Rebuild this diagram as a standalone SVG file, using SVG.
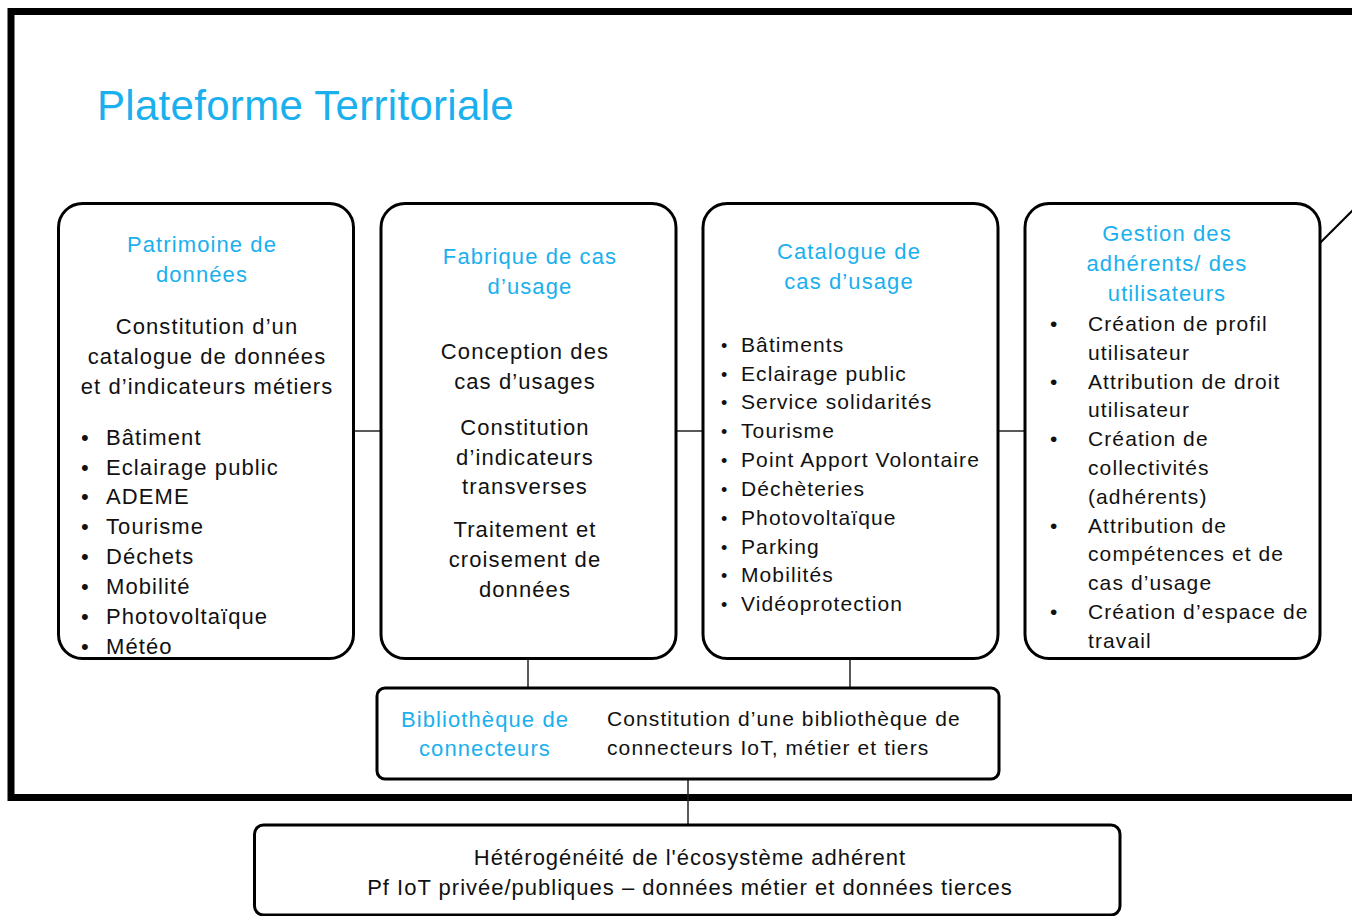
<svg xmlns="http://www.w3.org/2000/svg" width="1352" height="916" viewBox="0 0 1352 916">
<style>
.t{font-family:"Liberation Sans",Arial,sans-serif;font-size:22px;fill:#111;letter-spacing:1.1px}
.c{text-anchor:middle}
.b{fill:#1ab0ee}
.box{fill:#fff;stroke:#000;stroke-width:3}
.ln{stroke:#222;stroke-width:1.5;fill:none}
</style>
<rect width="1352" height="916" fill="#fff"/>
<rect id="frame" x="11" y="11.5" width="1400" height="786" fill="none" stroke="#000" stroke-width="7"/>
<text class="t b" x="97" y="120" style="font-size:42px;letter-spacing:0.3px">Plateforme Territoriale</text>
<g id="connectors">
<line class="ln" x1="354" y1="431" x2="381" y2="431"/>
<line class="ln" x1="676" y1="431" x2="703" y2="431"/>
<line class="ln" x1="998" y1="431" x2="1025" y2="431"/>
<line class="ln" x1="528" y1="659" x2="528" y2="687"/>
<line class="ln" x1="850" y1="659" x2="850" y2="687"/>
<line class="ln" x1="688" y1="779" x2="688" y2="825"/>
<line stroke="#000" stroke-width="2" x1="1320" y1="243" x2="1362" y2="201"/>
</g>
<g id="patrimoine">
<rect class="box" x="58.5" y="203.5" width="295" height="455" rx="24"/>
<text class="t b c" x="202"><tspan x="202" y="252">Patrimoine de</tspan><tspan x="202" y="282">données</tspan></text>
<text class="t c"><tspan x="207" y="334">Constitution d’un</tspan><tspan x="207" y="364">catalogue de données</tspan><tspan x="207" y="394">et d’indicateurs métiers</tspan></text>
<text class="t"><tspan x="81" y="445">•</tspan><tspan x="81" y="475">•</tspan><tspan x="81" y="504">•</tspan><tspan x="81" y="534">•</tspan><tspan x="81" y="564">•</tspan><tspan x="81" y="594">•</tspan><tspan x="81" y="624">•</tspan><tspan x="81" y="654">•</tspan></text>
<text class="t"><tspan x="106" y="445">Bâtiment</tspan><tspan x="106" y="475">Eclairage public</tspan><tspan x="106" y="504">ADEME</tspan><tspan x="106" y="534">Tourisme</tspan><tspan x="106" y="564">Déchets</tspan><tspan x="106" y="594">Mobilité</tspan><tspan x="106" y="624">Photovoltaïque</tspan><tspan x="106" y="654">Météo</tspan></text>
</g>
<g id="fabrique">
<rect class="box" x="381" y="203.5" width="295" height="455" rx="24"/>
<text class="t b c"><tspan x="530" y="264">Fabrique de cas</tspan><tspan x="530" y="294">d’usage</tspan></text>
<text class="t c"><tspan x="525" y="359">Conception des</tspan><tspan x="525" y="389">cas d’usages</tspan><tspan x="525" y="435">Constitution</tspan><tspan x="525" y="465">d’indicateurs</tspan><tspan x="525" y="494">transverses</tspan><tspan x="525" y="537">Traitement et</tspan><tspan x="525" y="567">croisement de</tspan><tspan x="525" y="597">données</tspan></text>
</g>
<g id="catalogue">
<rect class="box" x="703" y="203.5" width="295" height="455" rx="24"/>
<text class="t b c"><tspan x="849" y="259">Catalogue de</tspan><tspan x="849" y="289">cas d’usage</tspan></text>
<text class="t" style="font-size:18px"><tspan x="721" y="352">•</tspan><tspan x="721" y="381">•</tspan><tspan x="721" y="409">•</tspan><tspan x="721" y="438">•</tspan><tspan x="721" y="467">•</tspan><tspan x="721" y="496">•</tspan><tspan x="721" y="525">•</tspan><tspan x="721" y="554">•</tspan><tspan x="721" y="582">•</tspan><tspan x="721" y="611">•</tspan></text>
<text class="t" style="font-size:21px"><tspan x="741" y="352">Bâtiments</tspan><tspan x="741" y="381">Eclairage public</tspan><tspan x="741" y="409">Service solidarités</tspan><tspan x="741" y="438">Tourisme</tspan><tspan x="741" y="467">Point Apport Volontaire</tspan><tspan x="741" y="496">Déchèteries</tspan><tspan x="741" y="525">Photovoltaïque</tspan><tspan x="741" y="554">Parking</tspan><tspan x="741" y="582">Mobilités</tspan><tspan x="741" y="611">Vidéoprotection</tspan></text>
</g>
<g id="gestion">
<rect class="box" x="1025" y="203.5" width="295" height="455" rx="24"/>
<text class="t b c"><tspan x="1167" y="241">Gestion des</tspan><tspan x="1167" y="271">adhérents/ des</tspan><tspan x="1167" y="301">utilisateurs</tspan></text>
<text class="t" style="font-size:21px"><tspan x="1050" y="331">•</tspan><tspan x="1050" y="389">•</tspan><tspan x="1050" y="446">•</tspan><tspan x="1050" y="533">•</tspan><tspan x="1050" y="619">•</tspan></text>
<text class="t" style="font-size:21px"><tspan x="1088" y="331">Création de profil</tspan><tspan x="1088" y="360">utilisateur</tspan><tspan x="1088" y="389">Attribution de droit</tspan><tspan x="1088" y="417">utilisateur</tspan><tspan x="1088" y="446">Création de</tspan><tspan x="1088" y="475">collectivités</tspan><tspan x="1088" y="504">(adhérents)</tspan><tspan x="1088" y="533">Attribution de</tspan><tspan x="1088" y="561">compétences et de</tspan><tspan x="1088" y="590">cas d’usage</tspan><tspan x="1088" y="619">Création d’espace de</tspan><tspan x="1088" y="648">travail</tspan></text>
</g>
<g id="bibliotheque">
<rect class="box" x="377" y="688" width="622" height="91" rx="8"/>
<text class="t b c"><tspan x="485" y="727">Bibliothèque de</tspan><tspan x="485" y="756">connecteurs</tspan></text>
<text class="t" style="font-size:21px"><tspan x="607" y="726">Constitution d’une bibliothèque de</tspan><tspan x="607" y="755">connecteurs IoT, métier et tiers</tspan></text>
</g>
<g id="ecosysteme">
<rect class="box" x="254.5" y="825" width="865.5" height="90" rx="9" stroke-width="2.5"/>
<text class="t c" style="font-size:22px;letter-spacing:1px"><tspan x="690" y="865">Hétérogénéité de l'écosystème adhérent</tspan><tspan x="690" y="895">Pf IoT privée/publiques – données métier et données tierces</tspan></text>
</g>
</svg>
